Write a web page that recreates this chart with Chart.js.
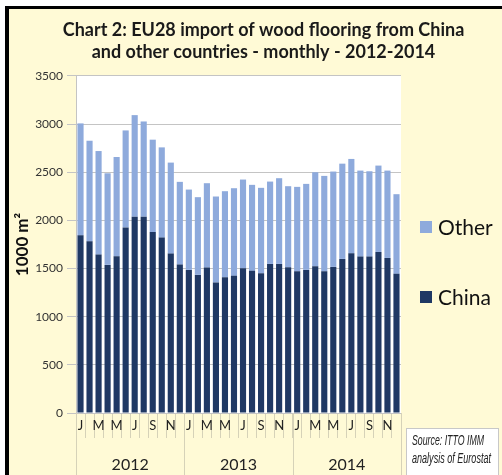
<!DOCTYPE html>
<html>
<head>
<meta charset="utf-8">
<script src="https://cdn.jsdelivr.net/npm/chart.js@4/dist/chart.umd.min.js"></script>
<style>
  html, body { margin: 0; padding: 0; background: #fff; }
  #wrap { position: relative; width: 502px; height: 475px; overflow: hidden; background: #fff; }
  #panel { position: absolute; left: 5px; top: 6px; right: 0; bottom: 0;
           background: #fffad6; border-left: 4px solid #000; border-top: 3px solid #000; }
  #chart { position: absolute; left: 0; top: 0; }
</style>
</head>
<body>
<div id="wrap">
  <div id="panel"></div>
  <canvas id="chart" width="502" height="475"></canvas>
</div>
<script>
const years = ['2012', '2013', '2014'];
const monthInitials = ['J', 'F', 'M', 'A', 'M', 'J', 'J', 'A', 'S', 'O', 'N', 'D'];

// thousand m2 per month, Jan 2012 .. Dec 2014
const chinaValues = [
  1845, 1783, 1645, 1538, 1627, 1927, 2038, 2038, 1879, 1821, 1655, 1541,
  1486, 1434, 1510, 1355, 1410, 1424, 1503, 1476, 1452, 1548, 1548, 1514,
  1472, 1486, 1524, 1472, 1517, 1600, 1658, 1624, 1624, 1672, 1610, 1445
];
const otherValues = [
  1162, 1044, 1075, 951, 1031, 1007, 1055, 989, 959, 937, 945, 859,
  834, 807, 876, 893, 893, 910, 921, 893, 886, 855, 890, 841,
  876, 893, 976, 990, 990, 989, 980, 893, 886, 897, 907, 827
];
const yTicks = [0, 500, 1000, 1500, 2000, 2500, 3000, 3500];
const sourceLines = ['Source: ITTO IMM', 'analysis of Eurostat'];

const labels = [];
years.forEach(() => monthInitials.forEach(m => labels.push(m)));

const FONT = "Lato, 'Open Sans', sans-serif";
const GRID = '#c4c4c4';
const SEP = '#d6d2b8';

// white plot background, year labels and separators, legend, source note
const decorations = {
  id: 'decorations',
  beforeDraw(chart) {
    const a = chart.chartArea, c = chart.ctx;
    c.save();
    c.fillStyle = '#fff';
    c.fillRect(a.left, a.top, a.right - a.left, a.bottom - a.top);
    c.restore();
  },
  afterDraw(chart) {
    const c = chart.ctx, x = chart.scales.x, a = chart.chartArea;
    const step = x.getPixelForValue(1) - x.getPixelForValue(0);
    c.save();
    c.strokeStyle = SEP;
    c.lineWidth = 1;
    for (let i = 0; i <= years.length; i++) {
      const px = Math.round(x.getPixelForValue(i * 12) - step / 2) + 0.5;
      c.beginPath();
      c.moveTo(px, a.bottom);
      c.lineTo(px, chart.height);
      c.stroke();
    }
    c.fillStyle = '#222';
    c.font = '16px ' + FONT;
    c.textAlign = 'center';
    c.textBaseline = 'middle';
    years.forEach((y, i) => {
      const mid = (x.getPixelForValue(i * 12) + x.getPixelForValue(i * 12 + 11)) / 2;
      c.fillText(y, mid, 465);
    });

    // legend, top entry is the top of the stack
    const items = chart.data.datasets.slice().reverse();
    c.font = '21px ' + FONT;
    c.textAlign = 'left';
    items.forEach((ds, i) => {
      const cy = 227 + i * 70;
      c.fillStyle = ds.backgroundColor;
      c.fillRect(420, cy - 6, 12, 12);
      c.fillStyle = '#111';
      c.fillText(ds.label, 438, cy + 1);
    });

    // source note box
    c.fillStyle = '#fff';
    c.fillRect(406, 428, 92, 50);
    c.strokeStyle = '#c8c8c8';
    c.strokeRect(406.5, 428.5, 92, 50);
    c.fillStyle = '#222';
    c.font = "italic 14px 'Liberation Sans', sans-serif";
    c.fillText(sourceLines[0], 412, 441, 72);
    c.fillText(sourceLines[1], 412, 459, 79);
    c.restore();
  }
};

new Chart(document.getElementById('chart').getContext('2d'), {
  type: 'bar',
  data: {
    labels: labels,
    datasets: [
      { label: 'China', data: chinaValues, backgroundColor: '#1f3864' },
      { label: 'Other', data: otherValues, backgroundColor: '#8eaadc' }
    ]
  },
  options: {
    responsive: false,
    animation: false,
    events: [],
    datasets: { bar: { barPercentage: 1, categoryPercentage: 0.68 } },
    // negative right padding nudges the centred title to the right
    layout: { padding: { left: 5, right: -20, top: 0, bottom: 0 } },
    plugins: {
      legend: { display: false },
      tooltip: { enabled: false },
      title: {
        display: true,
        text: ['Chart 2: EU28 import of wood flooring from China', 'and other countries - monthly - 2012-2014'],
        color: '#1a1a1a',
        font: { family: FONT, size: 18, weight: 'bold', lineHeight: 1.22 },
        padding: { top: 19, bottom: 13 }
      }
    },
    scales: {
      x: {
        stacked: true,
        offset: true,
        grid: { offset: true, drawOnChartArea: false, color: SEP, tickLength: 25 },
        border: { color: GRID },
        ticks: {
          autoSkip: false, maxRotation: 0, padding: -20,
          color: '#222', font: { family: FONT, size: 13 },
          callback: (v, i) => (i % 2 === 0 ? labels[i] : '')
        },
        afterFit: s => { s.height = 62; }
      },
      y: {
        stacked: true,
        min: 0, max: 3500,
        afterBuildTicks: s => { s.ticks = yTicks.map(v => ({ value: v })); },
        grid: { color: GRID, tickLength: 9 },
        border: { color: GRID },
        ticks: { color: '#333', padding: 4, font: { family: FONT, size: 12 }, callback: v => String(v) },
        title: {
          display: true, text: '1000 m²', color: '#111',
          font: { family: FONT, size: 17, weight: 'bold', lineHeight: 1.2 },
          padding: { top: 7, bottom: 0 }
        },
        afterFit: s => { s.width = 71; }
      },
      // empty right-hand axis keeps room for the legend
      side: {
        position: 'right',
        display: true,
        grid: { display: false },
        border: { display: false },
        ticks: { display: false },
        afterFit: s => { s.width = 121; }
      }
    }
  },
  plugins: [decorations]
});
</script>
</body>
</html>
